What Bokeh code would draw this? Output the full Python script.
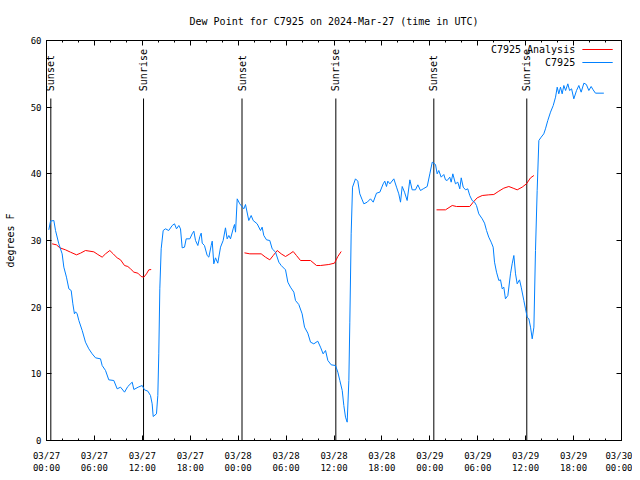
import numpy as np
from bokeh.plotting import figure
from bokeh.models import Range1d, FixedTicker, LinearAxis
from bokeh.core.properties import value
from bokeh.embed import file_html
from bokeh.resources import INLINE

# ---------------- data ----------------
# hours since 2024-03-27 00:00 UTC
obs_hours = [0.29, 0.5, 0.92, 1.13, 1.54, 1.96, 2.17, 2.5, 2.8, 3.09, 3.3, 3.5, 3.65, 3.84, 4.05,
             4.47, 4.88, 5.3, 5.72, 6.14, 6.76, 6.97, 7.39, 7.8, 8.43, 8.85, 9.27, 9.77, 10.18,
             10.73, 10.94, 11.48, 11.98, 12.27, 12.69, 13.02, 13.23, 13.36, 13.77, 13.94, 14.06,
             14.19, 14.36, 14.61, 14.9, 15.3, 15.74, 16.03, 16.28, 16.57, 16.78, 16.99, 17.28,
             17.49, 17.95, 18.24, 18.45, 18.66, 18.95, 19.2, 19.37, 19.5, 19.78, 20.12, 20.33,
             20.62, 20.75, 20.95, 21.16, 21.45, 21.79, 22.12, 22.41, 22.62, 22.83, 23.04, 23.37,
             23.54, 23.67, 23.88, 24.2, 24.71, 24.92, 25.33, 25.63, 25.88, 26.38, 26.8, 27.0,
             27.21, 27.55, 27.96, 28.26, 28.68, 29.09, 29.39, 29.93, 30.22, 30.55, 30.97, 31.18,
             31.59, 32.01, 32.31, 32.72, 33.06, 33.47, 33.97, 34.31, 34.64, 34.94, 35.23, 35.65,
             36.19, 36.48, 36.73, 37.03, 37.23, 37.44, 37.65, 37.86, 37.98, 38.15, 38.32, 38.69,
             38.98, 39.23, 39.53, 39.74, 40.16, 40.57, 40.91, 41.32, 41.74, 42.16, 42.36, 42.57,
             42.74, 43.0, 43.49, 43.83, 44.11, 44.33, 44.54, 44.83, 45.16, 45.5, 45.79, 46.2,
             46.5, 46.83, 47.17, 47.67, 48.0, 48.3, 48.71, 48.92, 49.12, 49.42, 49.75, 49.96,
             50.17, 50.5, 50.67, 50.88, 51.21, 51.5, 51.75, 51.93, 52.18, 52.47, 52.75, 53.0,
             53.3, 53.6, 53.84, 54.13, 54.56, 54.85, 55.1, 55.38, 55.68, 55.93, 56.1, 56.35,
             56.64, 56.85, 57.06, 57.26, 57.47, 57.77, 58.1, 58.31, 58.52, 58.73, 58.94, 59.23,
             59.44, 59.77, 59.98, 60.19, 60.4, 60.61, 60.82, 61.03, 61.23, 61.44, 61.65, 61.94,
             62.27, 62.48, 62.77, 63.11, 63.45, 63.74, 63.95, 64.15, 64.36, 64.57, 64.78, 65.0,
             65.28, 65.5, 65.75, 66.03, 66.37, 66.66, 66.95, 67.29, 67.6, 67.91, 68.2, 68.45,
             68.74, 69.79]
obs_dewpt = [31.6, 32.9, 33.0, 31.5, 29.5, 28.0, 26.0, 24.5, 22.75, 22.5, 20.5, 19.0, 19.3, 19.0, 18.0,
             16.5, 14.75, 13.75, 13.0, 12.4, 12.25, 11.25, 10.5, 9.1, 9.0, 7.75, 8.0, 7.25, 8.1,
             8.75, 7.65, 8.0, 8.25, 7.6, 7.4, 6.75, 5.5, 3.6, 4.0, 6.75, 13.0,
             22.75, 28.75, 31.5, 31.75, 31.5, 32.25, 32.5, 31.75, 32.25, 31.75, 28.9, 29.0,
             30.25, 30.25, 31.0, 31.4, 30.0, 29.25, 30.6, 31.1, 29.6, 29.25, 27.75, 27.5,
             29.25, 29.9, 26.5, 27.4, 26.6, 29.0, 30.0, 31.9, 30.25, 30.75, 30.25, 31.75,
             32.4, 31.25, 36.25, 35.5, 34.75, 35.4, 33.0, 33.75, 33.0, 32.5, 31.5, 32.0,
             30.75, 30.1, 30.0, 28.75, 28.25, 26.75, 26.25, 25.6, 23.75, 23.0, 22.25, 21.0,
             20.4, 19.0, 17.0, 16.1, 14.75, 14.5, 14.9, 14.0, 13.0, 13.5, 12.0, 11.35,
             11.25, 10.25, 9.0, 7.5, 5.25, 3.5, 2.75, 9.0, 17.75, 31.0, 38.0, 39.25,
             38.9, 37.0, 36.1, 35.5, 35.75, 36.25, 35.75, 37.1, 37.25, 38.5, 38.9, 38.1,
             38.9, 38.5, 39.25, 38.0, 37.0, 35.75, 38.1, 37.25, 36.0, 39.1, 37.6, 37.6,
             38.35, 37.5, 37.75, 38.1, 40.0, 41.75, 41.4, 40.0, 40.5, 39.5, 39.9, 39.1,
             39.0, 39.5, 38.75, 40.0, 38.5, 38.75, 37.75, 39.4, 38.0, 37.6, 37.75, 36.75,
             36.0, 35.75, 35.25, 34.0, 33.25, 32.6, 31.5, 30.5, 29.75, 29.0, 26.75, 25.25,
             24.0, 24.1, 22.75, 23.0, 21.25, 21.75, 25.0, 26.5, 27.75, 25.0, 23.5, 24.1,
             23.0, 21.0, 19.75, 18.5, 18.25, 17.0, 15.25, 17.0, 28.5, 37.5, 45.0, 45.5,
             46.0, 46.75, 48.0, 49.25, 50.25, 51.5, 53.0, 52.0, 53.0, 52.0, 53.25, 52.5,
             53.5, 52.5, 52.75, 51.25, 52.5, 53.25, 52.25, 53.6, 53.4, 52.5, 53.1, 52.6,
             52.1, 52.1]

nan = float("nan")
ana_hours = [0.71, 1.25, 1.67, 2.38, 3.0, 3.76, 4.26, 4.88, 5.93, 6.43, 6.97, 7.39, 7.93, 8.35,
             8.85, 9.27, 9.77, 10.18, 10.52, 10.94, 11.44, 11.86, 12.19, 12.52, 12.81, 13.11,
             18.0,
             24.79, 25.46, 26.88, 27.42, 27.96, 28.39, 28.89, 29.39, 29.93, 30.47, 30.89, 31.3,
             31.81, 33.06, 33.81, 34.31, 35.35, 36.06, 36.48, 36.9,
             42.0,
             48.84, 49.96, 50.8, 51.34, 53.0, 53.43, 53.93, 54.56, 55.38, 56.01, 56.64, 57.26,
             57.89, 58.43, 58.94, 59.56, 60.1, 60.61, 61.03]
ana_dewpt = [29.5, 29.35, 28.9, 28.6, 28.25, 27.85, 28.1, 28.5, 28.3, 27.9, 27.5, 28.0, 28.5, 28.0,
             27.4, 27.1, 26.25, 26.1, 25.75, 25.25, 25.1, 24.6, 24.5, 25.0, 25.6, 25.65,
             nan,
             28.15, 28.0, 28.0, 27.5, 27.1, 27.75, 28.5, 28.0, 27.6, 28.0, 28.35, 27.75,
             27.0, 27.0, 26.25, 26.25, 26.4, 26.6, 27.6, 28.35,
             nan,
             34.6, 34.6, 35.25, 35.1, 35.1, 35.75, 36.4, 36.75, 36.85, 36.9, 37.4, 37.85,
             38.1, 37.85, 37.6, 38.0, 38.5, 39.4, 39.75]

sun_hours = [0.54, 12.15, 24.48, 36.23, 48.5, 60.14]
sun_names = ["Sunset", "Sunrise", "Sunset", "Sunrise", "Sunset", "Sunrise"]

tick_hours = [0, 6, 12, 18, 24, 30, 36, 42, 48, 54, 60, 66, 72]
tick_labels = ["03/27\n00:00", "03/27\n06:00", "03/27\n12:00", "03/27\n18:00",
               "03/28\n00:00", "03/28\n06:00", "03/28\n12:00", "03/28\n18:00",
               "03/29\n00:00", "03/29\n06:00", "03/29\n12:00", "03/29\n18:00",
               "03/30\n00:00"]
y_ticks = [0, 10, 20, 30, 40, 50, 60]

series_names = ["C7925 Analysis", "C7925"]
series_colors = ["#ff0000", "#0080ff"]

# ---------------- figure ----------------
FONT = "DejaVu Sans Mono"
p = figure(width=632, height=480, output_backend="svg", toolbar_location=None,
           x_range=Range1d(0, 72), y_range=Range1d(0, 60),
           min_border_left=46, min_border_right=11, min_border_top=40, min_border_bottom=40,
           x_axis_location=None, y_axis_location=None)
p.title.text = "Dew Point for C7925 on 2024-Mar-27 (time in UTC)"
p.title.text_font = FONT
p.title.text_font_size = "10px"
p.title.text_font_style = "normal"
p.title.text_color = "black"
p.title.align = "center"
p.title.standoff = 27
p.grid.visible = False
p.outline_line_color = "black"
p.outline_line_width = 1
p.background_fill_color = "white"
p.border_fill_color = "white"

xticker = FixedTicker(ticks=tick_hours, minor_ticks=list(range(0, 73, 2)))
yticker = FixedTicker(ticks=y_ticks, minor_ticks=[])

def style(ax, labels=True):
    ax.axis_line_color = "black"
    ax.major_tick_line_color = "black"
    ax.minor_tick_line_color = "black"
    ax.major_tick_in = 5
    ax.major_tick_out = 0
    ax.minor_tick_in = 2
    ax.minor_tick_out = 0
    ax.major_label_text_font = FONT
    ax.major_label_text_color = "black"
    if not labels:
        ax.major_label_text_color = None
        ax.major_label_text_alpha = 0
        ax.major_label_text_font_size = "1px"
        ax.major_label_standoff = 0

xb = LinearAxis(ticker=xticker)
style(xb)
xb.major_label_overrides = {h: lab for h, lab in zip(tick_hours, tick_labels)}
xb.major_label_text_font_size = "9px"
xb.major_label_standoff = 10
p.add_layout(xb, "below")

xt = LinearAxis(ticker=xticker)
style(xt, labels=False)
p.add_layout(xt, "above")

yl = LinearAxis(ticker=yticker, axis_label="degrees F")
style(yl)
yl.major_label_text_font_size = "9px"
yl.major_label_standoff = 5
yl.axis_label_text_font = FONT
yl.axis_label_text_font_size = "10px"
yl.axis_label_text_font_style = "normal"
yl.axis_label_text_color = "black"
yl.axis_label_standoff = 12
p.add_layout(yl, "left")

yr = LinearAxis(ticker=yticker)
style(yr, labels=False)
p.add_layout(yr, "right")

# sunrise / sunset markers
LINE_TOP = 51.3
LABEL_Y = 52.4
p.segment(x0=sun_hours, y0=[0] * len(sun_hours), x1=sun_hours, y1=[LINE_TOP] * len(sun_hours),
          line_color="black", line_width=1)
p.text(x=sun_hours, y=[LABEL_Y] * len(sun_hours), text=sun_names, angle=np.pi / 2,
       text_align="left", text_baseline="middle", text_font=value(FONT),
       text_font_size="10px", text_color="black")

# series
p.line(ana_hours, ana_dewpt, line_color=series_colors[0], line_width=1)
p.line(obs_hours, obs_dewpt, line_color=series_colors[1], line_width=1)

# key (text then sample, as in the original)
KEY_TEXT_X = 66.2
KEY_X0, KEY_X1 = 67.1, 70.9
KEY_Y = [58.65, 56.7]
p.text(x=[KEY_TEXT_X] * 2, y=KEY_Y, text=series_names, text_align="right",
       text_baseline="middle", text_font=value(FONT), text_font_size="10px", text_color="black")
p.segment(x0=[KEY_X0] * 2, y0=KEY_Y, x1=[KEY_X1] * 2, y1=KEY_Y,
          line_color=series_colors, line_width=1)

open("out.html", "w").write(file_html(p, INLINE))
